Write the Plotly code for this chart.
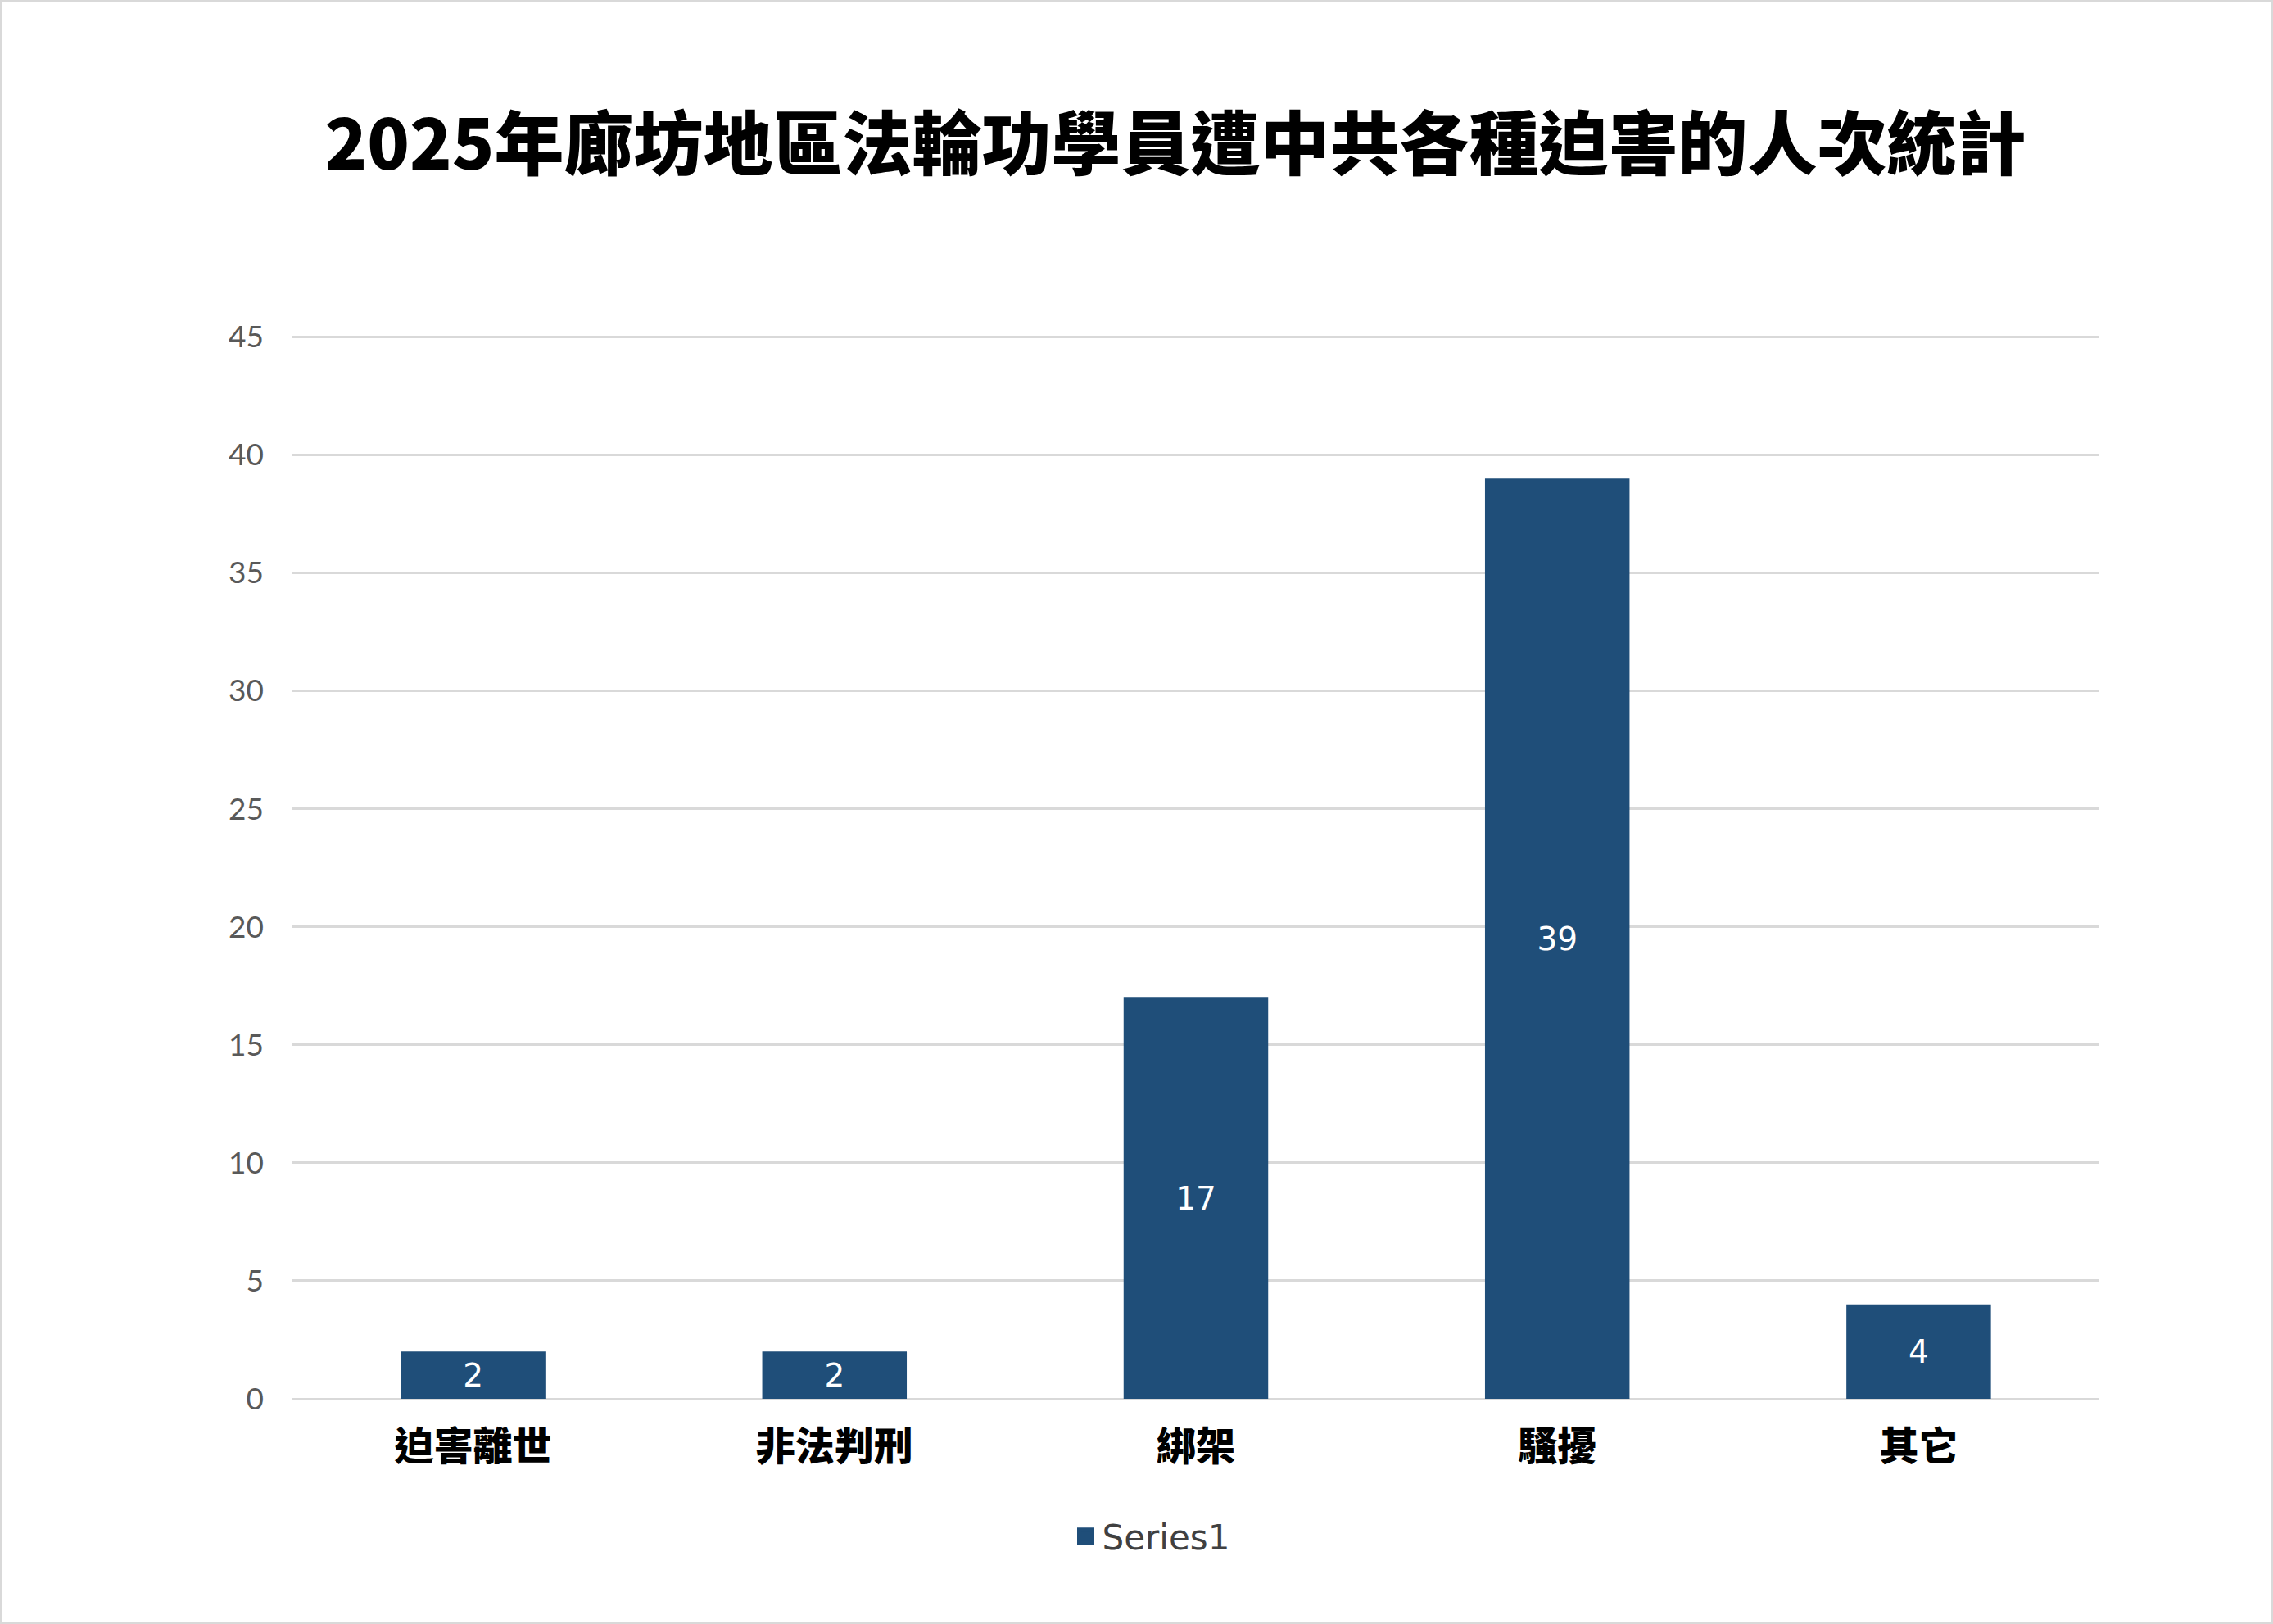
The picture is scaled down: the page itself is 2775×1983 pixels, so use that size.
import plotly.graph_objects as go

categories = ["迫害離世", "非法判刑", "綁架", "騷擾", "其它"]
values = [2, 2, 17, 39, 4]
y_ticks = [0, 5, 10, 15, 20, 25, 30, 35, 40, 45]
series_name = "Series1"
title_text = "2025年廊坊地區法輪功學員遭中共各種迫害的人次統計"

W, H = 2775, 1983
ML, MR, MT, MB = 357, 212, 409, 275
PW, PH = W - ML - MR, H - MT - MB

bar_color = "#1F4E79"

fig = go.Figure()
fig.add_trace(go.Bar(
    x=categories,
    y=values,
    name=series_name,
    marker=dict(color=bar_color, line=dict(width=0)),
    text=[str(v) for v in values],
    textposition="inside",
    insidetextanchor="middle",
    textangle=0,
    textfont=dict(family="DejaVu Sans", size=39, color="white"),
    showlegend=False,
))
# legend entry (square swatch like the reference)
fig.add_trace(go.Scatter(
    x=[None], y=[None],
    mode="markers",
    name=series_name,
    marker=dict(symbol="square", size=24, color=bar_color,
                line=dict(color=bar_color, width=5)),
    showlegend=True,
    hoverinfo="skip",
))

fig.update_layout(
    width=W,
    height=H,
    margin=dict(l=ML, r=MR, t=MT, b=MB, pad=0),
    paper_bgcolor="white",
    plot_bgcolor="white",
    bargap=0.6,
    title=dict(
        text=title_text,
        x=1435 / W,
        xanchor="center",
        y=1 - 177 / H,
        yanchor="middle",
        font=dict(family="Noto Sans CJK TC", size=85, color="black", weight=900),
    ),
    xaxis=dict(
        showgrid=False,
        showline=False,
        ticks="",
        ticklabelstandoff=26,
        tickfont=dict(family="Noto Sans CJK TC", size=48, color="black", weight=900),
    ),
    yaxis=dict(
        range=[0, 45.08],
        tickvals=y_ticks,
        showgrid=True,
        gridcolor="#D9D9D9",
        gridwidth=2.5,
        zeroline=True,
        zerolinecolor="#D9D9D9",
        zerolinewidth=2.5,
        showline=False,
        ticks="",
        ticklabelstandoff=34,
        tickfont=dict(family="Lato, Noto Sans", size=37, color="#595959"),
    ),
    legend=dict(
        orientation="h",
        x=(1406 - ML) / PW,
        xanchor="center",
        y=(-(1876 - (MT + PH))) / PH,
        yanchor="middle",
        font=dict(family="DejaVu Sans", size=42, color="#404040"),
        itemwidth=30,
        itemsizing="trace",
    ),
    shapes=[dict(
        type="rect",
        xref="paper", yref="paper",
        x0=(-ML + 1) / PW, x1=1 + (MR - 1) / PW,
        y0=(-MB + 1) / PH, y1=1 + (MT - 1) / PH,
        line=dict(color="#D9D9D9", width=2),
        fillcolor="rgba(0,0,0,0)",
        layer="below",
    )],
)

fig.write_html("out.html", config={"displayModeBar": False},
               post_script="document.body.style.margin='0';")
